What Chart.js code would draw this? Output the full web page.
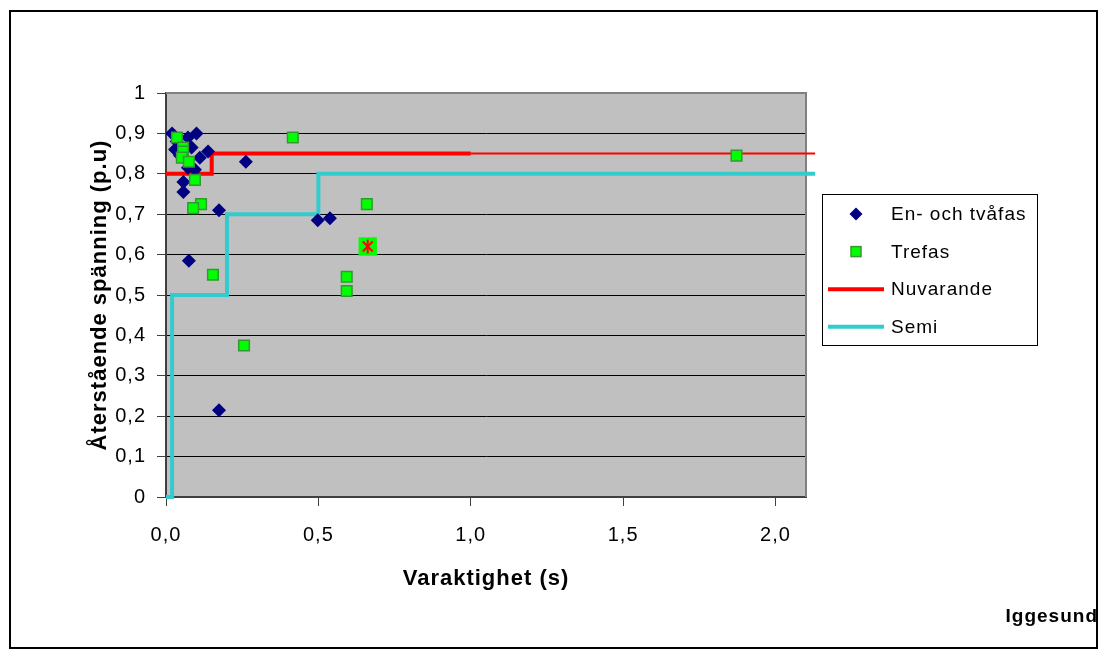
<!DOCTYPE html>
<html>
<head>
<meta charset="utf-8">
<script src="https://cdn.jsdelivr.net/npm/chart.js@4.4.1/dist/chart.umd.min.js"></script>
<style>
html, body { margin: 0; padding: 0; background: #fff; }
#wrap { width: 1100px; height: 652px; }
</style>
</head>
<body>
<div id="wrap"><canvas id="chart" width="1100" height="652"></canvas></div>
<script>
// En- och tvåfas (diamonds)
const enTvafasX = [0.02, 0.035, 0.03, 0.046, 0.072, 0.10, 0.084, 0.138, 0.111, 0.072, 0.095, 0.262, 0.057, 0.057, 0.174, 0.075, 0.174, 0.498, 0.538];
const enTvafasY = [0.90, 0.88, 0.86, 0.845, 0.89, 0.90, 0.865, 0.855, 0.84, 0.815, 0.81, 0.83, 0.78, 0.755, 0.71, 0.585, 0.215, 0.685, 0.69];

// Trefas (squares)
const trefasX = [0.036, 0.416, 0.056, 0.056, 0.052, 0.075, 0.095, 0.115, 0.089, 0.154, 0.256, 0.659, 0.593, 0.593, 1.872];
const trefasY = [0.89, 0.89, 0.865, 0.855, 0.84, 0.83, 0.785, 0.725, 0.715, 0.55, 0.375, 0.725, 0.545, 0.51, 0.845];

// marked Trefas event (big square with red cross)
const markedX = [0.662];
const markedY = [0.62];

// Nuvarande curve, thick part and thin continuation
const nuvarandeX = [0, 0.15, 0.15, 1.0];
const nuvarandeY = [0.8, 0.8, 0.85, 0.85];
const nuvarandeExtX = [1.0, 2.13];
const nuvarandeExtY = [0.85, 0.85];

// Semi curve
const semiX = [0, 0.02, 0.02, 0.2, 0.2, 0.5, 0.5, 2.13];
const semiY = [0, 0, 0.5, 0.5, 0.7, 0.7, 0.8, 0.8];

const xTicks = [0, 0.5, 1, 1.5, 2];
const yTicks = [0, 0.1, 0.2, 0.3, 0.4, 0.5, 0.6, 0.7, 0.8, 0.9, 1];

const legendLabels = ['En- och tvåfas', 'Trefas', 'Nuvarande', 'Semi'];

const toPoints = (xs, ys) => xs.map((x, i) => ({ x, y: ys[i] }));
const comma = s => s.replace('.', ',');
const FONT = '"Liberation Sans", Arial, sans-serif';

const frame = {
    id: 'frame',
    beforeDraw(chart) {
        const { ctx, chartArea: a } = chart;
        ctx.letterSpacing = '1px';
        ctx.save();
        ctx.fillStyle = '#fff';
        ctx.fillRect(0, 0, chart.width, chart.height);
        ctx.fillStyle = '#c0c0c0';
        ctx.fillRect(a.left, a.top, a.right - a.left, a.bottom - a.top);
        ctx.restore();
    },
    beforeDatasetsDraw(chart) {
        const { ctx, chartArea: a } = chart;
        ctx.save();
        ctx.strokeStyle = '#808080';
        ctx.lineWidth = 2;
        ctx.beginPath();
        ctx.moveTo(a.left, a.top);
        ctx.lineTo(a.right, a.top);
        ctx.lineTo(a.right, a.bottom);
        ctx.stroke();
        ctx.restore();
    },
    afterDraw(chart) {
        const ctx = chart.ctx;
        ctx.save();
        // outer border
        ctx.strokeStyle = '#000';
        ctx.lineWidth = 2;
        ctx.strokeRect(10, 11, 1087, 637);

        // legend
        ctx.lineWidth = 1;
        ctx.strokeRect(822.5, 194.5, 215, 151);
        ctx.font = '19px ' + FONT;
        ctx.fillStyle = '#000';
        ctx.textBaseline = 'middle';
        ctx.textAlign = 'left';
        legendLabels.forEach((label, i) => {
            const y = 214 + i * 37.6;
            ctx.save();
            if (i === 0) {
                ctx.fillStyle = '#000080';
                ctx.beginPath();
                ctx.moveTo(856, y - 6.5);
                ctx.lineTo(862.5, y);
                ctx.lineTo(856, y + 6.5);
                ctx.lineTo(849.5, y);
                ctx.closePath();
                ctx.fill();
            } else if (i === 1) {
                ctx.fillStyle = '#00ff00';
                ctx.strokeStyle = '#339933';
                ctx.lineWidth = 1.5;
                ctx.fillRect(851, y - 5, 10, 10);
                ctx.strokeRect(851, y - 5, 10, 10);
            } else {
                ctx.strokeStyle = i === 2 ? '#ff0000' : '#33cccc';
                ctx.lineWidth = 4;
                ctx.beginPath();
                ctx.moveTo(828, y);
                ctx.lineTo(884, y);
                ctx.stroke();
            }
            ctx.restore();
            ctx.fillText(label, 891, y + 1);
        });

        // site name
        ctx.font = 'bold 19px ' + FONT;
        ctx.textAlign = 'right';
        ctx.fillText('Iggesund', 1098, 617);
        ctx.restore();
    }
};

// datasets listed first are drawn on top
new Chart(document.getElementById('chart'), {
    type: 'scatter',
    data: {
        datasets: [
            {
                label: 'Markerad',
                data: toPoints(markedX, markedY),
                pointStyle: 'crossRot',
                radius: 7,
                borderColor: '#ff0000',
                borderWidth: 2
            },
            {
                label: 'Markerad linje',
                data: toPoints(markedX, markedY),
                pointStyle: 'line',
                rotation: 90,
                radius: 7,
                borderColor: '#ff0000',
                borderWidth: 2
            },
            {
                label: 'Markerad ruta',
                data: toPoints(markedX, markedY),
                pointStyle: 'rect',
                radius: 13,
                backgroundColor: '#00ff00',
                borderColor: '#00ff00',
                borderWidth: 0
            },
            {
                label: legendLabels[1],
                data: toPoints(trefasX, trefasY),
                pointStyle: 'rect',
                radius: 7.5,
                backgroundColor: '#00ff00',
                borderColor: '#339933',
                borderWidth: 1.5
            },
            {
                label: legendLabels[0],
                data: toPoints(enTvafasX, enTvafasY),
                pointStyle: 'rectRot',
                radius: 7,
                backgroundColor: '#000080',
                borderColor: '#000080',
                borderWidth: 0
            },
            {
                label: legendLabels[2],
                data: toPoints(nuvarandeX, nuvarandeY),
                showLine: true,
                pointRadius: 0,
                borderColor: '#ff0000',
                borderWidth: 4,
                clip: false
            },
            {
                label: 'Nuvarande forts.',
                data: toPoints(nuvarandeExtX, nuvarandeExtY),
                showLine: true,
                pointRadius: 0,
                borderColor: '#ff0000',
                borderWidth: 2,
                clip: false
            },
            {
                label: legendLabels[3],
                data: toPoints(semiX, semiY),
                showLine: true,
                pointRadius: 0,
                borderColor: '#33cccc',
                borderWidth: 4,
                clip: false
            }
        ]
    },
    options: {
        responsive: false,
        animation: false,
        devicePixelRatio: 1,
        layout: { padding: { left: 80, top: 93, right: 294, bottom: 55 } },
        plugins: {
            legend: { display: false },
            tooltip: { enabled: false }
        },
        scales: {
            x: {
                type: 'linear',
                min: 0,
                max: 2.1,
                afterFit: s => { s.height = 100; },
                afterBuildTicks: s => { s.ticks = xTicks.map(value => ({ value })); },
                grid: { drawOnChartArea: false, tickLength: 9, tickColor: '#404040', tickWidth: 1 },
                border: { color: '#404040', width: 2 },
                ticks: {
                    color: '#000',
                    font: { family: FONT, size: 20 },
                    padding: 17,
                    maxRotation: 0,
                    callback: v => comma(v.toFixed(1))
                },
                title: {
                    display: true,
                    text: 'Varaktighet (s)',
                    color: '#000',
                    font: { family: FONT, size: 22, weight: 'bold' },
                    padding: { top: 0, bottom: 5 }
                }
            },
            y: {
                type: 'linear',
                min: 0,
                max: 1,
                afterFit: s => { s.width = 86; },
                afterBuildTicks: s => { s.ticks = yTicks.map(value => ({ value })); },
                grid: { color: '#000', lineWidth: 1, tickLength: 9, tickColor: '#404040' },
                border: { color: '#404040', width: 2 },
                ticks: {
                    color: '#000',
                    font: { family: FONT, size: 20 },
                    padding: 11,
                    callback: v => Number.isInteger(v) ? String(v) : comma(v.toFixed(1))
                },
                title: {
                    display: true,
                    text: 'Återstående spänning (p.u)',
                    color: '#000',
                    font: { family: FONT, size: 22, weight: 'bold' },
                    padding: { top: 7, bottom: 0 }
                }
            }
        }
    },
    plugins: [frame]
});
</script>
</body>
</html>
